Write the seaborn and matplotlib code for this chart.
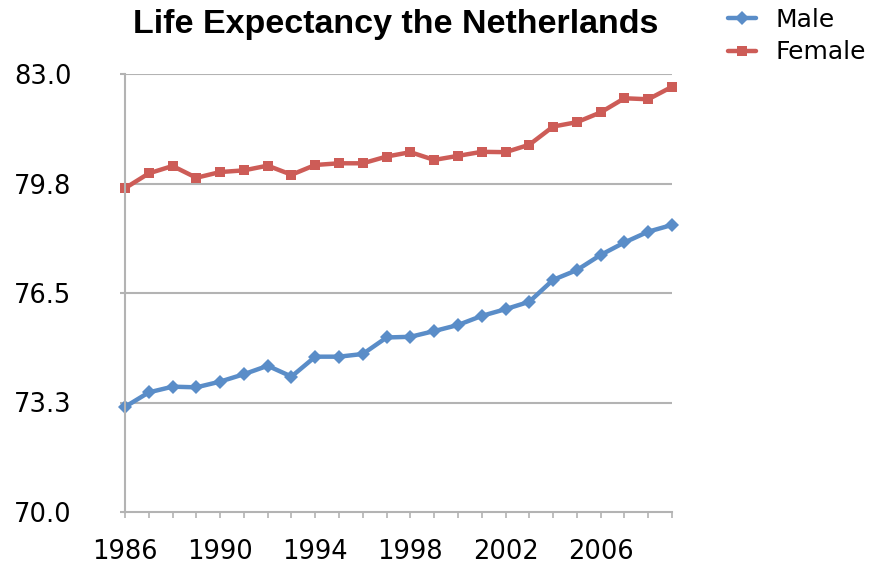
import seaborn as sns
import matplotlib.pyplot as plt
import pandas as pd

# Data
years = list(range(1986, 2010))
male = [73.12, 73.55, 73.72, 73.70, 73.87, 74.09, 74.34, 74.02, 74.61, 74.61,
        74.69, 75.18, 75.20, 75.37, 75.55, 75.82, 76.02, 76.24, 76.89, 77.18,
        77.63, 78.00, 78.32, 78.52]
female = [79.61, 80.05, 80.27, 79.92, 80.09, 80.14, 80.28, 80.01, 80.30, 80.35,
          80.35, 80.55, 80.68, 80.45, 80.57, 80.69, 80.68, 80.90, 81.44, 81.57,
          81.86, 82.28, 82.25, 82.62]
y_ticks = [70.0, 73.25, 76.5, 79.75, 83.0]
y_tick_labels = ["70.0", "73.3", "76.5", "79.8", "83.0"]
x_tick_labels = [str(y) if (y - 1986) % 4 == 0 else "" for y in years]

df = pd.DataFrame({
    "year": years * 2,
    "value": male + female,
    "sex": ["Male"] * len(years) + ["Female"] * len(years),
})

sns.set_style("white")
plt.rcParams["font.family"] = ["DejaVu Sans"]
plt.rcParams["text.color"] = "black"

fig = plt.figure(figsize=(8.69, 5.77), dpi=100)
ax = fig.add_axes([125 / 869, 65 / 577, 547 / 869, 438 / 577])

sns.lineplot(
    data=df, x="year", y="value", hue="sex", style="sex",
    palette={"Male": "#5A8DC8", "Female": "#CD5C57"},
    markers={"Male": "D", "Female": "s"}, dashes=False,
    linewidth=3.2, markersize=7, markeredgewidth=0, ax=ax, clip_on=False,
)

ax.set_xlim(1986, 2009)
ax.set_ylim(70, 83)
ax.set_yticks(y_ticks)
ax.set_yticklabels(y_tick_labels, fontsize=18.5, color="black")
ax.set_xticks(years)
ax.set_xticklabels(x_tick_labels, fontsize=18.5, color="black")
ax.set_xlabel("")
ax.set_ylabel("")

for y in y_ticks[1:]:
    ax.axhline(y, color="#b3b3b3", linewidth=1.5, zorder=0)

for s in ["top", "right"]:
    ax.spines[s].set_visible(False)
for s in ["left", "bottom"]:
    ax.spines[s].set_color("#b3b3b3")
    ax.spines[s].set_linewidth(1.5)

ax.tick_params(axis="x", direction="out", length=4.3, width=1.2, color="#b3b3b3", pad=15, bottom=True)
ax.tick_params(axis="y", direction="out", length=3.6, width=1.5, color="#b3b3b3", pad=35, left=True)

fig.text(396 / 869, 1 - 24 / 577, "Life Expectancy the Netherlands", fontsize=24.5,
         fontweight="bold", family="Liberation Sans", ha="center", va="center",
         color="black")

handles, labels = ax.get_legend_handles_labels()
ax.legend(handles, labels, loc="upper left", bbox_to_anchor=(718 / 869, 1.004),
          bbox_transform=fig.transFigure, frameon=False, fontsize=18,
          handlelength=1.1, handletextpad=0.8, labelspacing=0.35, borderaxespad=0)

plt.savefig("out.png", dpi=100)
